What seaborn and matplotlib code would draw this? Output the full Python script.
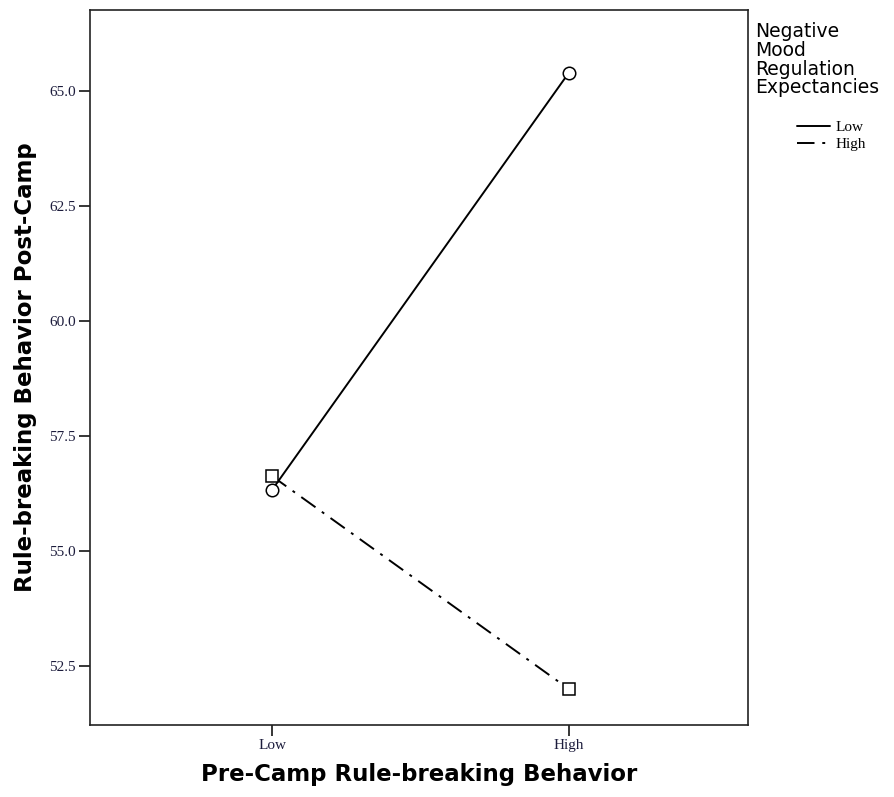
import pandas as pd
import matplotlib.pyplot as plt
import seaborn as sns
from matplotlib.lines import Line2D
from matplotlib.ticker import FormatStrFormatter

# --- data ---
pre_camp = ['Low', 'High']
mood_low = [56.33, 65.40]    # Negative mood regulation expectancies: Low
mood_high = [56.63, 52.00]   # Negative mood regulation expectancies: High
groups = ['Low', 'High']
y_ticks = [52.5, 55.0, 57.5, 60.0, 62.5, 65.0]

df = pd.DataFrame({
    'Pre': pre_camp * 2,
    'Post': mood_low + mood_high,
    'NMR': [groups[0]] * 2 + [groups[1]] * 2,
})

sns.set_style('white')
plt.rcParams['font.family'] = ['DejaVu Sans']
plt.rcParams['text.color'] = 'black'
plt.rcParams['axes.labelcolor'] = 'black'

fig = plt.figure(figsize=(8.95, 7.97), dpi=100)
ax = fig.add_axes([0.1006, 0.0903, 0.7352, 0.8972])

dash_dot = (0, (9, 4, 1.5, 4))
sns.lineplot(data=df, x='Pre', y='Post', hue='NMR', style='NMR',
             palette={'Low': 'black', 'High': 'black'},
             markers={'Low': 'o', 'High': 's'},
             dashes={'Low': '', 'High': (9, 4, 1.5, 4)},
             markersize=9, markerfacecolor='white', markeredgecolor='black',
             markeredgewidth=1.1, linewidth=1.4, legend=False, ax=ax,
             sort=False)

ax.set_xlim(-0.613, 1.603)
ax.set_ylim(51.22, 66.76)
ax.set_yticks(y_ticks)
ax.yaxis.set_major_formatter(FormatStrFormatter('%.1f'))

for lab in ax.get_xticklabels() + ax.get_yticklabels():
    lab.set_fontfamily('Liberation Serif')
    lab.set_fontsize(11)
    lab.set_color('#1c1c3c')
ax.tick_params(axis='both', direction='out', length=8, width=1.1, color='black',
               left=True, bottom=True, pad=2)

for s in ax.spines.values():
    s.set_visible(True)
    s.set_color('#222222')
    s.set_linewidth(1.2)

ax.set_xlabel('Pre-Camp Rule-breaking Behavior', fontsize=16.5, fontweight='bold', labelpad=8)
ax.set_ylabel('Rule-breaking Behavior Post-Camp', fontsize=16.5, fontweight='bold', labelpad=9)

# legend outside on the right
fig.text(0.8436, 0.972, 'Negative\nMood\nRegulation\nExpectancies',
         ha='left', va='top', fontsize=13.5, linespacing=0.98)
handles = [Line2D([], [], color='black', lw=1.4, linestyle='-'),
           Line2D([], [], color='black', lw=1.4, linestyle=dash_dot)]
fig.legend(handles, groups, loc='upper left', bbox_to_anchor=(0.875, 0.866),
           frameon=False, handlelength=2.2, handletextpad=0.3, labelspacing=0.2,
           prop={'family': 'Liberation Serif', 'size': 11})

plt.savefig('out.png', dpi=100)
